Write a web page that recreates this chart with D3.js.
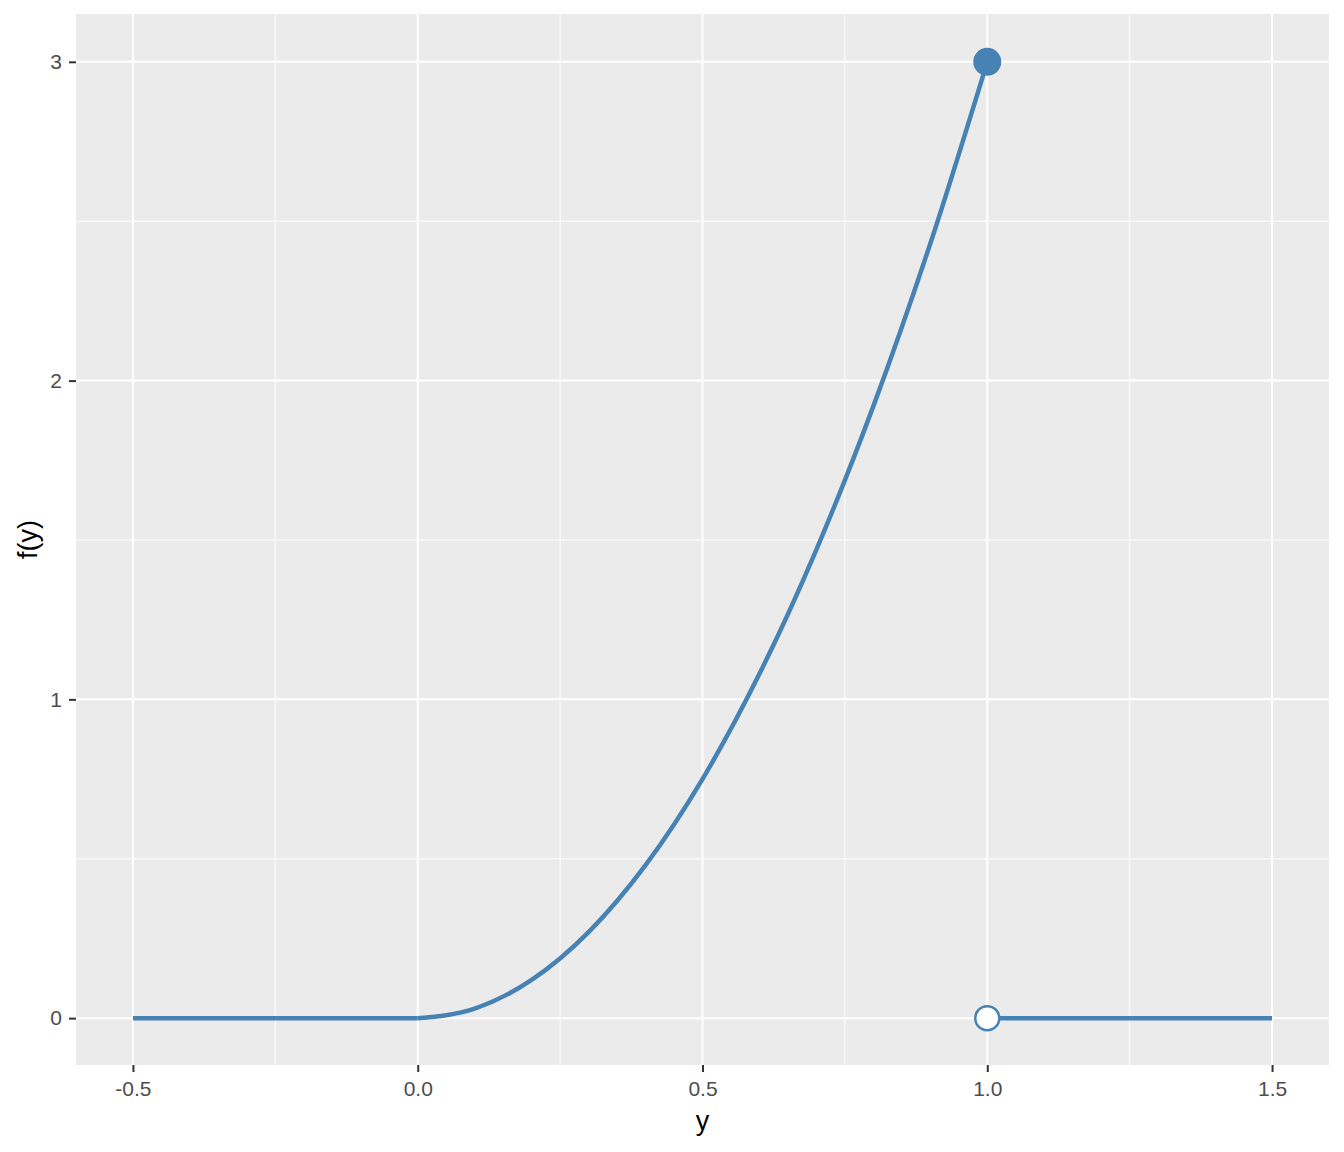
<!DOCTYPE html>
<html>
<head>
  <meta charset="utf-8">
  <title>f(y)</title>
  <script src="https://d3js.org/d3.v7.min.js"></script>
  <style>
    body { margin: 0; background: #fff; }
    text { font-family: "Liberation Sans", Arial, sans-serif; }
  </style>
</head>
<body>
  <div id="chart"></div>
  <script>
    // values
    var curveX = [0, 0.1, 0.2, 0.3, 0.4, 0.5, 0.6, 0.7, 0.8, 0.9, 1.0];
    var curveY = [0, 0.03, 0.12, 0.27, 0.48, 0.75, 1.08, 1.47, 1.92, 2.43, 3.0];
    var leftX = [-0.5, 0];
    var leftY = [0, 0];
    var rightX = [1.0, 1.5];
    var rightY = [0, 0];
    var closedPoint = [1.0, 3.0];
    var openPoint = [1.0, 0];
    var xTicks = [-0.5, 0.0, 0.5, 1.0, 1.5];
    var xMinor = [-0.25, 0.25, 0.75, 1.25];
    var yTicks = [0, 1, 2, 3];
    var yMinor = [0.5, 1.5, 2.5];

    var W = 1344, H = 1152;
    var margin = {top: 14, right: 15, bottom: 87, left: 76};
    var width = W - margin.left - margin.right;
    var height = H - margin.top - margin.bottom;
    var blue = "#4682B4";

    var svg = d3.select("#chart").append("svg")
      .attr("width", W).attr("height", H);

    var x = d3.scaleLinear().domain([-0.6, 1.6]).range([0, width]);
    var y = d3.scaleLinear().domain([-0.147, 3.15]).range([height, 0]);

    var g = svg.append("g")
      .attr("transform", "translate(" + margin.left + "," + margin.top + ")");

    // panel background
    g.append("rect")
      .attr("width", width).attr("height", height)
      .attr("fill", "#EBEBEB");

    // minor grid
    g.selectAll(".xminor").data(xMinor).enter().append("line")
      .attr("x1", function(d) { return x(d); }).attr("x2", function(d) { return x(d); })
      .attr("y1", 0).attr("y2", height)
      .attr("stroke", "#fff").attr("stroke-width", 1);
    g.selectAll(".yminor").data(yMinor).enter().append("line")
      .attr("y1", function(d) { return y(d); }).attr("y2", function(d) { return y(d); })
      .attr("x1", 0).attr("x2", width)
      .attr("stroke", "#fff").attr("stroke-width", 1);

    // major grid
    g.selectAll(".xmajor").data(xTicks).enter().append("line")
      .attr("x1", function(d) { return x(d); }).attr("x2", function(d) { return x(d); })
      .attr("y1", 0).attr("y2", height)
      .attr("stroke", "#fff").attr("stroke-width", 2);
    g.selectAll(".ymajor").data(yTicks).enter().append("line")
      .attr("y1", function(d) { return y(d); }).attr("y2", function(d) { return y(d); })
      .attr("x1", 0).attr("x2", width)
      .attr("stroke", "#fff").attr("stroke-width", 2);

    // axes
    var xAxis = g.append("g")
      .attr("transform", "translate(0," + height + ")")
      .call(d3.axisBottom(x).tickValues(xTicks)
        .tickFormat(function(d) { return d.toFixed(1); })
        .tickSize(7).tickPadding(9));
    var yAxis = g.append("g")
      .call(d3.axisLeft(y).tickValues(yTicks)
        .tickFormat(function(d) { return String(d); })
        .tickSize(7).tickPadding(7));

    [xAxis, yAxis].forEach(function(a) {
      a.select(".domain").remove();
      a.selectAll(".tick line").attr("stroke", "#333333").attr("stroke-width", 2);
      a.selectAll(".tick text")
        .attr("fill", "#4D4D4D")
        .style("font-size", "21px")
        .style("font-family", "'Liberation Sans', Arial, sans-serif");
    });

    // lines
    var line = d3.line()
      .x(function(d) { return x(d[0]); })
      .y(function(d) { return y(d[1]); });

    g.append("path")
      .datum(d3.zip(curveX, curveY))
      .attr("d", line.curve(d3.curveMonotoneX))
      .attr("fill", "none").attr("stroke", blue).attr("stroke-width", 4.5);

    line.curve(d3.curveLinear);
    g.append("path")
      .datum(d3.zip(leftX, leftY))
      .attr("d", line)
      .attr("fill", "none").attr("stroke", blue).attr("stroke-width", 4.5);
    g.append("path")
      .datum(d3.zip(rightX, rightY))
      .attr("d", line)
      .attr("fill", "none").attr("stroke", blue).attr("stroke-width", 4.5);

    // points
    g.append("circle")
      .attr("cx", x(closedPoint[0])).attr("cy", y(closedPoint[1]))
      .attr("r", 14).attr("fill", blue);
    g.append("circle")
      .attr("cx", x(openPoint[0])).attr("cy", y(openPoint[1]))
      .attr("r", 12).attr("fill", "#fff")
      .attr("stroke", blue).attr("stroke-width", 2.5);

    // axis titles
    svg.append("text")
      .attr("x", margin.left + width / 2)
      .attr("y", 1130)
      .attr("text-anchor", "middle")
      .style("font-size", "27px")
      .attr("fill", "#000")
      .text("y");

    svg.append("text")
      .attr("transform", "translate(37," + (margin.top + height / 2) + ") rotate(-90)")
      .attr("text-anchor", "middle")
      .style("font-size", "27px")
      .attr("fill", "#000")
      .text("f(y)");
  </script>
</body>
</html>
